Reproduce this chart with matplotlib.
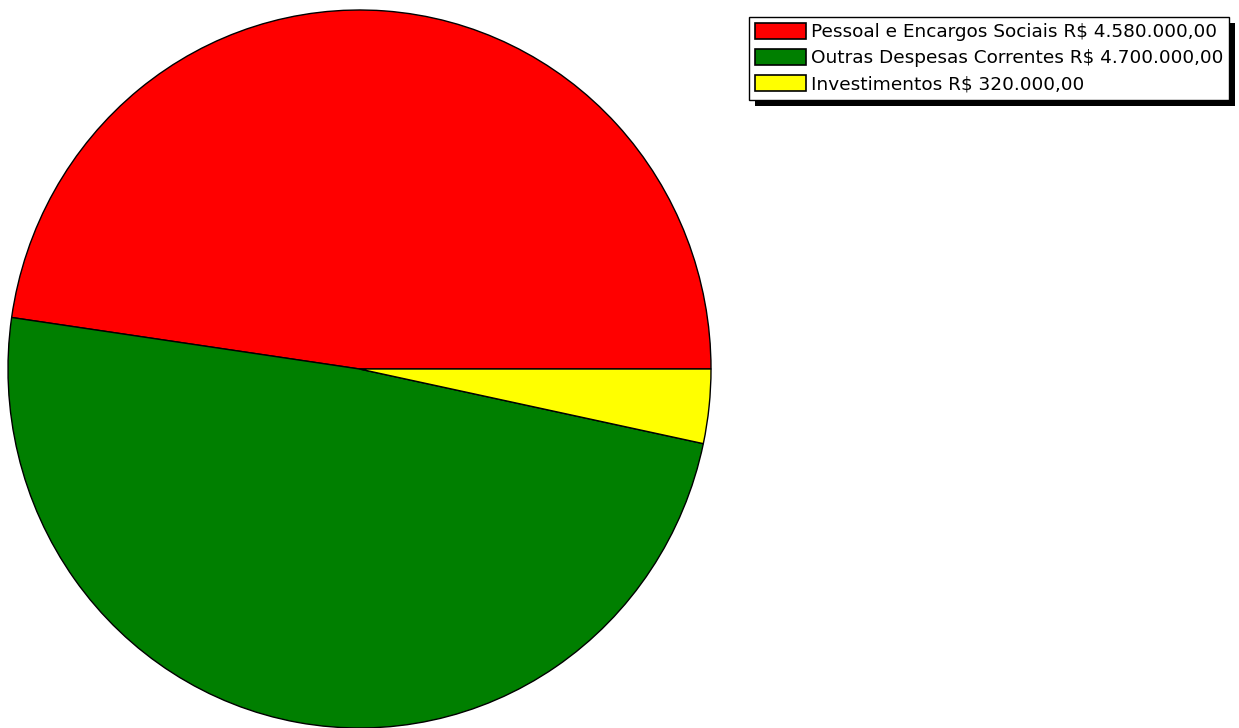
import matplotlib.pyplot as plt
from matplotlib.patches import Patch, Rectangle

# Orçamento por grupo de despesa
labels = ['Pessoal e Encargos Sociais R$ 4.580.000,00',
          'Outras Despesas Correntes R$ 4.700.000,00',
          'Investimentos R$ 320.000,00']
values = [4580000, 4700000, 320000]
colors = ['#ff0000', '#007f00', '#ffff00']

plt.rcParams['font.family'] = ['DejaVu Sans']

fig = plt.figure(figsize=(12.39, 7.28), dpi=100)
fig.patch.set_facecolor('white')

# the pie is a bit taller than wide, like the original
ax = fig.add_axes([8 / 1239, 0 / 728, 703 / 1239, 718 / 728])
ax.pie(values, colors=colors, startangle=0, counterclock=True,
       wedgeprops={'edgecolor': 'black', 'linewidth': 1})
ax.set_aspect('auto')
ax.set_xlim(-1, 1)
ax.set_ylim(-1, 1)
ax.axis('off')

handles = [Patch(facecolor=c, edgecolor='black', linewidth=1.2) for c in colors]
leg = fig.legend(handles, labels, loc='upper left',
                 bbox_to_anchor=(749 / 1239, 1 - 17 / 728),
                 fontsize=13.3, frameon=True, fancybox=False,
                 edgecolor='black', framealpha=1,
                 handlelength=2.75, handleheight=0.95, handletextpad=0.25,
                 labelspacing=0.42, borderpad=0.33, borderaxespad=0)
leg.get_frame().set_linewidth(1)
leg.set_zorder(5)

# hard black drop shadow behind the legend box
fig.canvas.draw()
bb = leg.get_frame().get_window_extent()
shadow = Rectangle((bb.x0 + 6, bb.y0 - 6), bb.width, bb.height,
                   facecolor='black', edgecolor='none',
                   transform=None, zorder=4)
fig.patches.append(shadow)

fig.savefig('out.png', dpi=100)
